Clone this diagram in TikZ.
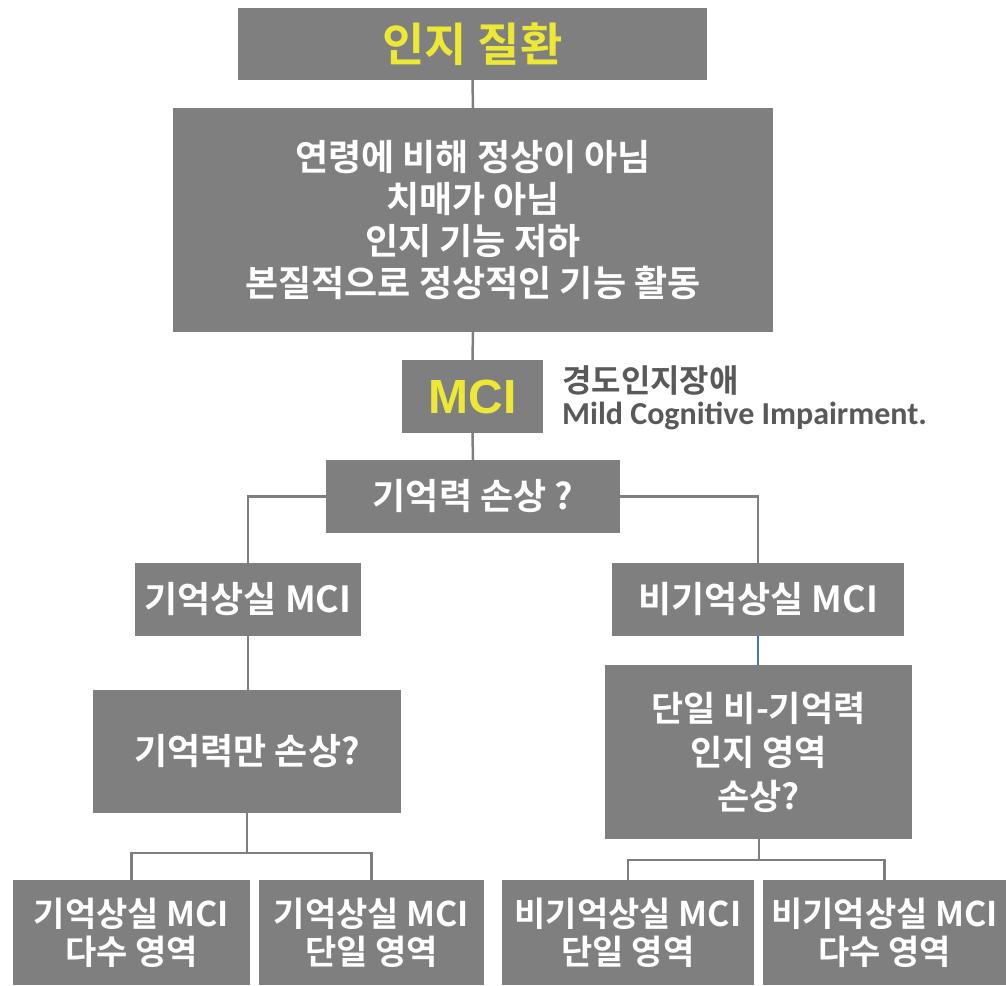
\documentclass[tikz,border=0pt]{standalone}
\usepackage{fontspec}
\newfontfamily\kr{Noto Sans CJK KR}[BoldFont={Noto Sans CJK KR Bold}]
\newfontfamily\latfont{Liberation Sans}
\newfontfamily\calfont{Carlito}
\definecolor{boxgray}{HTML}{7F7F7F}
\definecolor{ylw}{HTML}{EDE735}
\definecolor{dgray}{HTML}{595959}
\definecolor{lblue}{HTML}{4472C4}
\tikzset{
  gbox/.style={fill=boxgray, text=white, inner sep=0pt, align=center, font=\kr\bfseries\fontsize{36}{42}\selectfont},
  conn/.style={draw=boxgray, line width=2.5pt},
}
\begin{document}
\begin{tikzpicture}[x=1pt,y=-1pt]
\useasboundingbox (0,0) rectangle (1006,985);
\node[gbox, minimum width=469pt, minimum height=72pt, text=ylw, font=\kr\bfseries\fontsize{46}{50}\selectfont] (top) at (472.5,44) {인지 질환};
\node[gbox, minimum width=600pt, minimum height=224pt] (b2) at (473,220) {연령에 비해 정상이 아님\\치매가 아님\\인지 기능 저하\\본질적으로 정상적인 기능 활동};
\node[gbox, minimum width=141pt, minimum height=73pt, text=ylw, font=\latfont\bfseries\fontsize{48}{50}\selectfont] (mci) at (472.5,396.5) {MCI};
\node[anchor=west, inner sep=0pt, text=dgray, font=\kr\bfseries\fontsize{32}{34}\selectfont] (t1) at (562,381) {경도인지장애};
\node[anchor=west, inner sep=0pt, text=dgray, font=\calfont\bfseries\fontsize{32}{34}\selectfont] (t2) at (562,416) {Mild Cognitive Impairment.};
\node[gbox, minimum width=294pt, minimum height=73pt] (mem) at (473,496.5) {기억력 손상 ?};
\node[gbox, minimum width=226pt, minimum height=73pt] (amn) at (248,599.5) {기억상실 MCI};
\node[gbox, minimum width=292pt, minimum height=73pt] (namn) at (758,599.5) {비기억상실 MCI};
\node[gbox, minimum width=308pt, minimum height=123pt] (onlymem) at (247,751.5) {기억력만 손상?};
\node[gbox, minimum width=307pt, minimum height=174pt, font=\kr\bfseries\fontsize{35}{44}\selectfont] (single) at (758.5,752) {단일 비-기억력\\인지 영역\\손상?};
\node[gbox, minimum width=237pt, minimum height=105pt, font=\kr\bfseries\fontsize{34}{38}\selectfont] (c1) at (131.5,932.5) {기억상실 MCI\\다수 영역};
\node[gbox, minimum width=225pt, minimum height=105pt, font=\kr\bfseries\fontsize{34}{38}\selectfont] (c2) at (371.5,932.5) {기억상실 MCI\\단일 영역};
\node[gbox, minimum width=252pt, minimum height=105pt, font=\kr\bfseries\fontsize{34}{38}\selectfont] (c3) at (628,932.5) {비기억상실 MCI\\단일 영역};
\node[gbox, minimum width=243pt, minimum height=105pt, font=\kr\bfseries\fontsize{34}{38}\selectfont] (c4) at (884.5,932.5) {비기억상실 MCI\\다수 영역};
\coordinate (jl) at (247,853);
\coordinate (jr) at (759,860);
\draw[conn] (top.south) -- (b2.north);
\draw[conn] (b2.south) -- (mci.north);
\draw[conn] (mci.south) -- (mem.north);
\draw[conn] (mem.west) -| (amn.north);
\draw[conn] (mem.east) -| (namn.north);
\draw[conn] (amn.south) -- (onlymem.north -| amn.south);
\draw[draw=lblue, line width=2pt] (namn.south) -- (single.north -| namn.south);
\draw[conn] (onlymem.south) -- (jl);
\draw[conn] (c1.north) |- (jl) -| (c2.north);
\draw[conn] (single.south -| jr) -- (jr);
\draw[conn] (c3.north) |- (jr) -| (c4.north);
\end{tikzpicture}
\end{document}
